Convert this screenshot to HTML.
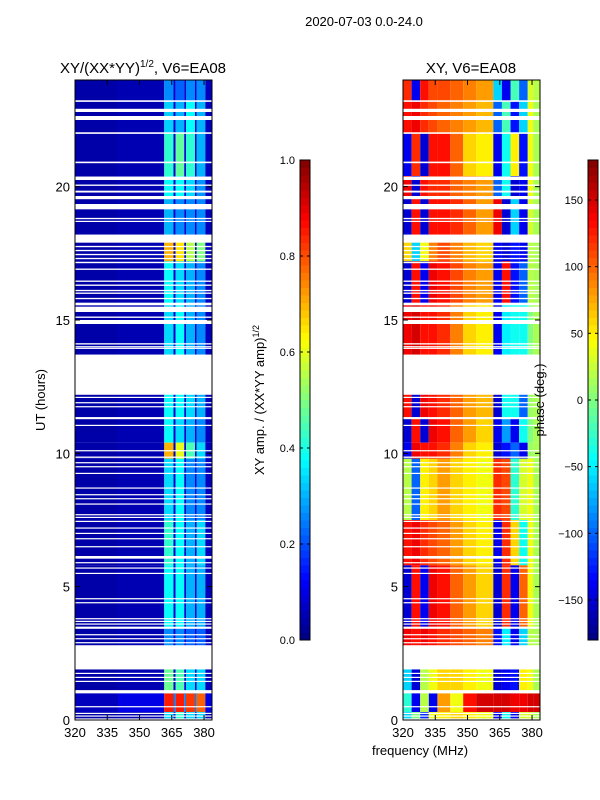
<!DOCTYPE html>
<html><head><meta charset="utf-8"><style>
body{margin:0;background:#fff;}
svg{display:block;font-family:"Liberation Sans",sans-serif;}
</style></head><body>
<svg id="fig" width="600" height="800" viewBox="0 0 600 800">
<g id="amp"></g>
<g id="pha"></g>
<g id="gaps"></g>
<g id="cb"></g>
<g id="axes"></g>
<text x="364" y="26" font-size="13" text-anchor="middle">2020-07-03 0.0-24.0</text>
<text x="143" y="73" font-size="15" text-anchor="middle">XY/(XX*YY)<tspan font-size="10" dy="-6">1/2</tspan><tspan dy="6">, V6=EA08</tspan></text>
<text x="471" y="73" font-size="15" text-anchor="middle">XY, V6=EA08</text>
<text x="420" y="755" font-size="13" text-anchor="middle">frequency (MHz)</text>
<text transform="translate(45,400) rotate(-90)" font-size="13" text-anchor="middle">UT (hours)</text>
<text transform="translate(264,400) rotate(-90)" font-size="13" text-anchor="middle">XY amp. / (XX*YY amp)<tspan font-size="9" dy="-5">1/2</tspan></text>
<text transform="translate(544,400) rotate(-90)" font-size="13" text-anchor="middle">phase (deg.)</text>
</svg>
<script>
const ampEdges=[320,340,361.5,365.8,366.8,370.8,371.6,375.8,376.6,380.6,383.7];
const phaEdges=[320,324,328,332,336,342,348,354,362,366,370,374,378,380.5,383.7];
const rowStart=[23.2,22.0,20.4,19.6,18.2,17.2,15.6,13.7,11.3,10.4,9.8,7.5,5.8,3.5,2.8,1.0,0.3,0.0];
const rowEnd=[24.0,23.2,22.0,20.4,19.6,18.1,17.2,15.6,12.2,11.3,10.4,9.8,7.5,5.8,3.5,1.9,1.0,0.3];
const ampRows=[
[0.04,0.05,0.26,0.08,0.22,0.08,0.26,0.08,0.26,0.06],
[0.04,0.05,0.33,0.08,0.3,0.08,0.38,0.08,0.3,0.06],
[0.04,0.05,0.42,0.08,0.47,0.08,0.42,0.08,0.3,0.06],
[0.04,0.05,0.38,0.08,0.38,0.08,0.34,0.08,0.27,0.06],
[0.04,0.05,0.3,0.08,0.26,0.08,0.26,0.08,0.26,0.06],
[0.04,0.05,0.7,0.08,0.65,0.08,0.55,0.08,0.5,0.06],
[0.04,0.05,0.38,0.08,0.34,0.08,0.3,0.08,0.26,0.06],
[0.04,0.05,0.34,0.08,0.38,0.08,0.3,0.08,0.26,0.06],
[0.04,0.05,0.38,0.08,0.38,0.08,0.34,0.08,0.3,0.06],
[0.04,0.05,0.38,0.08,0.34,0.08,0.3,0.08,0.26,0.06],
[0.04,0.05,0.7,0.08,0.6,0.08,0.45,0.08,0.34,0.06],
[0.04,0.05,0.34,0.08,0.38,0.08,0.26,0.08,0.26,0.06],
[0.04,0.05,0.42,0.08,0.38,0.08,0.3,0.08,0.34,0.06],
[0.04,0.05,0.38,0.08,0.38,0.08,0.3,0.08,0.3,0.06],
[0.04,0.05,0.26,0.08,0.26,0.08,0.22,0.08,0.22,0.06],
[0.04,0.05,0.48,0.08,0.45,0.08,0.34,0.08,0.34,0.06],
[0.06,0.1,0.85,0.25,0.85,0.25,0.82,0.25,0.78,0.1],
[0.04,0.05,0.34,0.08,0.42,0.08,0.34,0.08,0.34,0.06]];
const phaRows=[
[120,-140,130,110,110,100,90,80,-60,-140,-20,-100,30,20],
[130,140,120,110,100,90,80,70,-100,-20,-130,-60,40,15],
[-140,120,-150,130,130,100,60,50,-140,-40,50,-130,40,15],
[140,-150,130,120,120,100,90,80,-100,-40,-150,-140,40,15],
[-150,130,-150,130,130,120,100,80,140,-150,-60,-140,30,15],
[60,-60,40,90,110,90,70,60,-140,-150,-130,-140,20,15],
[-150,130,-140,140,130,110,90,80,-140,130,-130,-100,20,15],
[140,150,130,130,120,90,60,50,-140,-50,-40,-40,0,15],
[130,-150,140,130,120,100,80,70,-150,-40,-40,-100,10,15],
[-150,130,-150,140,130,100,80,60,-140,-80,-140,-40,0,15],
[-140,140,130,130,120,90,60,50,-150,-130,-100,-140,10,15],
[20,-100,50,60,80,60,50,40,120,110,-30,30,40,15],
[130,140,120,110,100,80,60,50,-140,120,60,-40,40,15],
[-150,130,-140,140,130,100,80,60,-150,120,-140,100,40,15],
[140,130,140,130,120,110,100,90,-130,-50,-140,-60,20,15],
[-60,-150,20,40,60,60,50,40,-150,-140,-130,50,40,15],
[-30,-140,20,-140,80,40,130,150,150,150,140,140,150,150],
[-60,0,-120,40,50,60,50,40,-140,-40,-140,30,30,15]];
const gaps=[[23.18,23.24],[22.8,22.92],[22.5,22.65],[21.98,22.04],[20.88,20.94],[20.25,20.38],[20.03,20.08],[19.78,19.85],[19.53,19.65],[19.15,19.35],[18.78,18.83],[18.68,18.72],[17.9,18.2],[17.73,17.78],[17.58,17.63],[17.43,17.48],[17.28,17.33],[17.13,17.18],[16.88,16.93],[16.43,16.48],[16.28,16.33],[16.08,16.13],[15.98,16.03],[15.78,15.83],[15.55,15.65],[15.3,15.5],[15.08,15.13],[14.85,15.0],[14.08,14.13],[13.98,14.02],[13.92,13.96],[12.2,13.7],[12.08,12.12],[11.88,11.92],[11.73,11.77],[11.28,11.36],[11.03,11.07],[10.08,10.12],[9.83,9.88],[9.63,9.67],[9.48,9.52],[9.23,9.27],[8.68,8.72],[8.43,8.47],[8.28,8.32],[8.08,8.12],[7.68,7.72],[7.58,7.62],[7.43,7.47],[7.18,7.22],[6.98,7.02],[6.78,6.82],[6.48,6.52],[6.05,6.15],[5.88,5.92],[5.68,5.72],[5.48,5.52],[4.53,4.57],[4.38,4.42],[3.78,3.82],[3.68,3.72],[3.58,3.62],[3.42,3.5],[3.18,3.22],[3.03,3.07],[2.88,2.92],[1.9,2.8],[1.73,1.77],[1.58,1.62],[1.43,1.47],[1.0,1.12],[0.48,0.52],[0.23,0.27],[0.13,0.17],[0.03,0.06]];
const yTicks=[0,5,10,15,20];
const xTicks=[320,335,350,365,380];
const ampTicks=[0.0,0.2,0.4,0.6,0.8,1.0];
const phaTicks=[-150,-100,-50,0,50,100,150];

const NS='http://www.w3.org/2000/svg';
const Y0=720,Y1=80,FMIN=320,FMAX=383.7;
const panels=[{x0:75,x1:212},{x0:403,x1:540}];
function yH(h){return Y0+(Y1-Y0)*h/24;}
function xF(p,f){return p.x0+(p.x1-p.x0)*(f-FMIN)/(FMAX-FMIN);}
function jet(v){v=Math.max(0,Math.min(1,v));
 const c=t=>Math.round(255*Math.max(0,Math.min(1,1.5-Math.abs(4*v-t))));
 return `rgb(${c(3)},${c(2)},${c(1)})`;}
function mk(tag,at,parent){const e=document.createElementNS(NS,tag);for(const k in at)e.setAttribute(k,at[k]);parent.appendChild(e);return e;}
const gA=document.getElementById('amp'),gP=document.getElementById('pha'),gG=document.getElementById('gaps'),gC=document.getElementById('cb'),gX=document.getElementById('axes');
rowStart.forEach((s,i)=>{
 const yt=yH(rowEnd[i]),yb=yH(s);
 for(let j=0;j<ampEdges.length-1;j++){
  const xa=xF(panels[0],ampEdges[j]),xb=xF(panels[0],ampEdges[j+1]);
  const r=mk('rect',{x:xa,y:yt,width:xb-xa,height:yb-yt,fill:jet(ampRows[i][j])},gA);
  
  
 }
 for(let j=0;j<phaEdges.length-1;j++){
  const xa=xF(panels[1],phaEdges[j]),xb=xF(panels[1],phaEdges[j+1]);
  const r=mk('rect',{x:xa,y:yt,width:xb-xa,height:yb-yt,fill:jet((phaRows[i][j]+180)/360)},gP);
  
  
 }
});
gaps.forEach(g=>{panels.forEach(p=>{
 const yt=yH(g[1]),yb=yH(g[0]);
 const r=mk('rect',{x:p.x0,y:yt,width:p.x1-p.x0,height:Math.max(1.2,yb-yt),fill:'#fff'},gG);
 
 
});});
panels.forEach((p,pi)=>{
 const f=mk('rect',{x:p.x0,y:Y1,width:p.x1-p.x0,height:Y0-Y1,fill:'none',stroke:'#000','stroke-width':1},gX);
 
 
 yTicks.forEach(t=>{const y=yH(t);
  mk('line',{x1:p.x0,x2:p.x0+5,y1:y,y2:y,stroke:'#000'},gX);
  mk('line',{x1:p.x1,x2:p.x1-5,y1:y,y2:y,stroke:'#000'},gX);
  const tx=mk('text',{x:p.x0-5,y:y+5,'font-size':13,'text-anchor':'end'},gX);tx.textContent=t;
  
  
 });
 xTicks.forEach(t=>{const x=xF(p,t);
  mk('line',{x1:x,x2:x,y1:Y0,y2:Y0-5,stroke:'#000'},gX);
  mk('line',{x1:x,x2:x,y1:Y1,y2:Y1+5,stroke:'#000'},gX);
  const tx=mk('text',{x:x,y:Y0+17,'font-size':13,'text-anchor':'middle'},gX);tx.textContent=t;
  
  
 });
});
function colorbar(x,vmin,vmax,ticks){
 const top=160,bot=640,N=64;
 for(let k=0;k<N;k++){
  const r=mk('rect',{x:x,y:bot-(k+1)*(bot-top)/N,width:10,height:(bot-top)/N+0.5,fill:jet((k+0.5)/N)},gC);
  
  
 }
 mk('rect',{x:x,y:top,width:10,height:bot-top,fill:'none',stroke:'#000'},gC);
 ticks.forEach(t=>{const y=bot-(bot-top)*(t-vmin)/(vmax-vmin);
  mk('line',{x1:x,x2:x+3,y1:y,y2:y,stroke:'#000'},gC);
  mk('line',{x1:x+10,x2:x+7,y1:y,y2:y,stroke:'#000'},gC);
  const tx=mk('text',{x:x-5,y:y+4,'font-size':11,'text-anchor':'end'},gC);
  tx.textContent=(vmax<=1?t.toFixed(1):(t<0?'\u2212'+(-t):t));
  
  
 });
}
colorbar(300,0,1,ampTicks);
colorbar(588,-180,180,phaTicks);
</script>
</body></html>
